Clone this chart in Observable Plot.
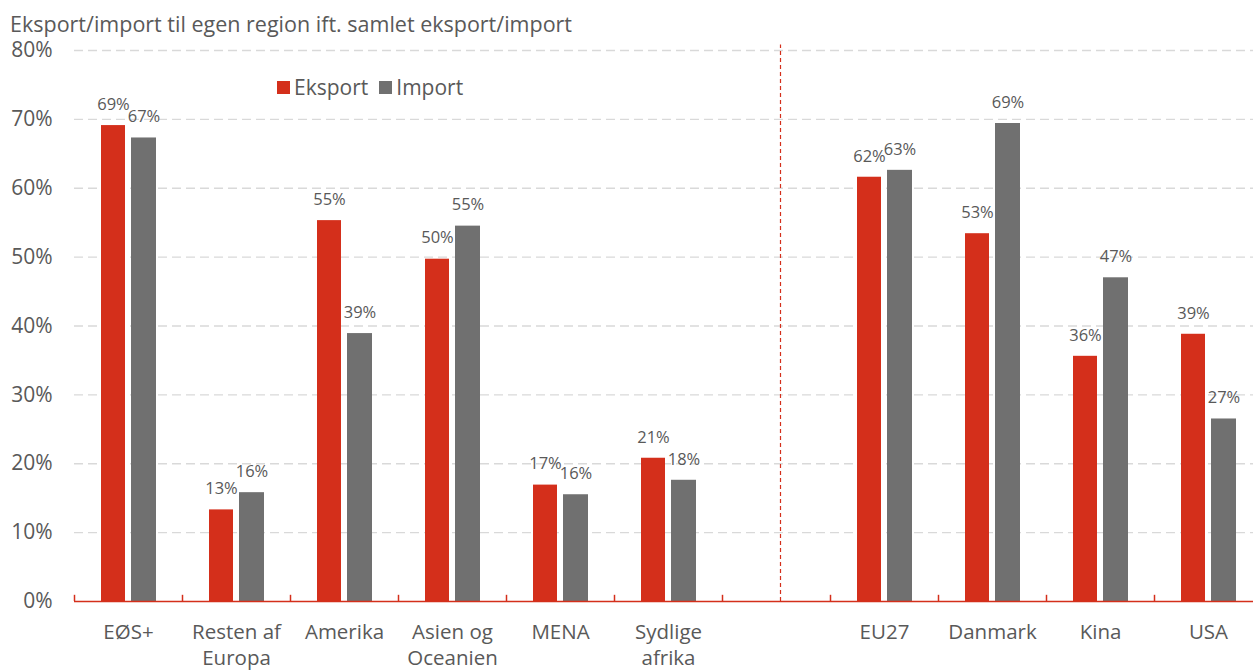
<!DOCTYPE html>
<html>
<head>
<meta charset="utf-8">
<script src="https://cdn.jsdelivr.net/npm/d3@7"></script>
<script src="https://cdn.jsdelivr.net/npm/@observablehq/plot@0.6"></script>
<style>
  html, body { margin: 0; padding: 0; background: #fff; }
  #wrap { position: relative; width: 1253px; height: 670px; overflow: hidden; font-family: "Open Sans", sans-serif; background: #fff; }
  #title { position: absolute; left: 10px; top: 9px; font-size: 21.5px; color: #595959; white-space: nowrap; line-height: 30px; z-index: 2; }
  #legend { position: absolute; left: 277px; top: 72px; font-size: 21px; color: #595959; display: flex; align-items: center; line-height: 30px; z-index: 2; }
  #legend .sw { width: 13px; height: 13px; display: inline-block; margin-right: 4px; }
  #legend .item { display: flex; align-items: center; margin-right: 11px; }
  #chart { position: absolute; left: 0; top: 20px; z-index: 1; }
  svg { overflow: hidden; }
</style>
</head>
<body>
<div id="wrap">
  <div id="title">Eksport/import til egen region ift. samlet eksport/import</div>
  <div id="chart"></div>
  <div id="legend"></div>
</div>
<script>
const categories = ["EØS+", "Resten af\nEuropa", "Amerika", "Asien og\nOceanien", "MENA", "Sydlige\nafrika", "", "EU27", "Danmark", "Kina", "USA"];
const eksport = [69.1, 13.3, 55.3, 49.7, 16.9, 20.8, null, 61.6, 53.4, 35.6, 38.8];
const importValues = [67.3, 15.8, 38.9, 54.5, 15.5, 17.6, null, 62.6, 69.4, 47.0, 26.5];
const series = ["Eksport", "Import"];
const colors = ["#d42f1b", "#707070"];
const yTicks = [0, 10, 20, 30, 40, 50, 60, 70, 80];
const gridTicks = [10, 20, 30, 40, 50, 60, 70, 80];

const expRows = categories.map((c, i) => ({cat: c, v: eksport[i]})).filter(d => d.v != null);
const impRows = categories.map((c, i) => ({cat: c, v: importValues[i]})).filter(d => d.v != null);
const boundaries = categories;
const divider = [""];
const textColor = "#595959";

const plot = Plot.plot({
  width: 1253,
  height: 650,
  marginTop: 30,
  marginBottom: 69,
  marginLeft: 74,
  marginRight: 0,
  style: {fontFamily: "'Open Sans', sans-serif", fontSize: "21px", color: textColor, background: "transparent"},
  x: {type: "band", domain: categories, range: [74, 1262], paddingInner: 0, paddingOuter: 0, axis: null},
  y: {domain: [0, 80], ticks: yTicks, tickSize: 0, tickPadding: 22, tickFormat: d => d + "%", label: null},
  marks: [
    Plot.ruleY(gridTicks, {stroke: "#d9d9d9", strokeWidth: 1.4, strokeDasharray: "9,5"}),
    Plot.barY(expRows, {x: "cat", y: "v", fill: colors[0], insetLeft: 27, insetRight: 57}),
    Plot.barY(impRows, {x: "cat", y: "v", fill: colors[1], insetLeft: 57, insetRight: 26}),
    Plot.text(expRows, {x: "cat", y: "v", text: d => Math.round(d.v) + "%", dx: -15, dy: -21, fill: textColor, fontSize: 16.5, lineAnchor: "middle"}),
    Plot.text(impRows, {x: "cat", y: "v", text: d => Math.round(d.v) + "%", dx: 15.5, dy: -21, fill: textColor, fontSize: 16.5, lineAnchor: "middle"}),
    Plot.ruleX(divider, {x: d => d, dx: 4, y1: 0, y2: 80.8, stroke: "#d42f1b", strokeWidth: 1.2, strokeDasharray: "4,3"}),
    Plot.ruleY([0], {stroke: "#d42f1b", strokeWidth: 1.6}),
    Plot.ruleX(boundaries, {x: d => d, dx: -54, y1: 0, y2: 0.9, stroke: "#d42f1b", strokeWidth: 1.5}),
    Plot.text(categories, {x: d => d, frameAnchor: "bottom", lineAnchor: "top", dy: 19, lineHeight: 1.27, fill: textColor, fontSize: 20.5})
  ]
});
document.getElementById("chart").appendChild(plot);

const legend = document.getElementById("legend");
series.forEach((s, i) => {
  const item = document.createElement("div");
  item.className = "item";
  const sw = document.createElement("span");
  sw.className = "sw";
  sw.style.background = colors[i];
  item.appendChild(sw);
  item.appendChild(document.createTextNode(s));
  legend.appendChild(item);
});
</script>
</body>
</html>
